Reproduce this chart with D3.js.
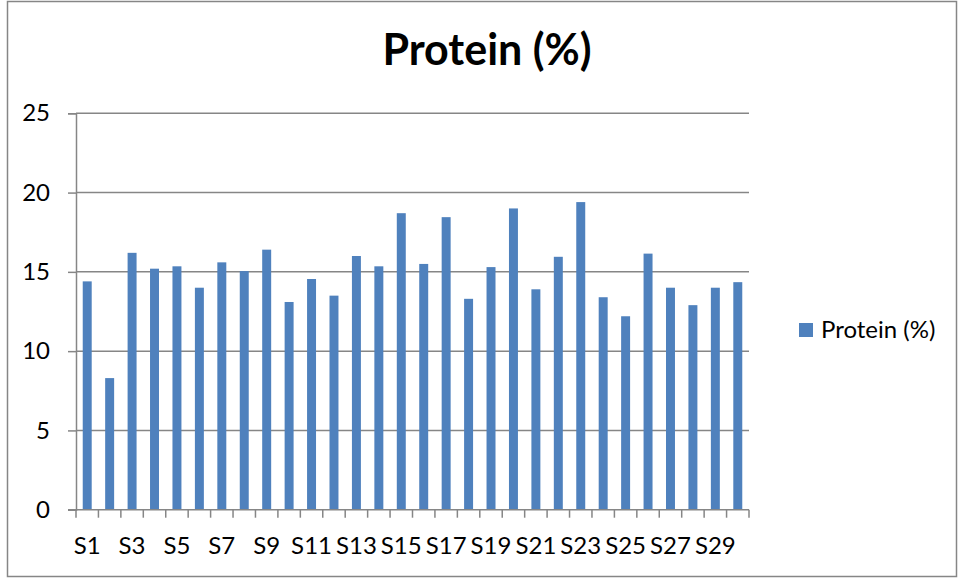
<!DOCTYPE html>
<html>
<head>
<meta charset="utf-8">
<script src="https://cdn.jsdelivr.net/npm/d3@7"></script>
<style>
  body { margin: 0; background: #fff; }
  svg text { font-family: Lato, "Open Sans", sans-serif; fill: #000; }
</style>
</head>
<body>
<svg width="959" height="578"></svg>
<script>
// values
const samples = d3.range(1, 31).map(d => "S" + d);
const protein = [14.4, 8.3, 16.2, 15.2, 15.35, 14.0, 15.6, 15.05, 16.4, 13.1,
                 14.55, 13.5, 16.0, 15.35, 18.7, 15.5, 18.45, 13.3, 15.3, 19.0,
                 13.9, 15.95, 19.4, 13.4, 12.2, 16.15, 14.0, 12.9, 14.0, 14.35];
const yTicks = [0, 5, 10, 15, 20, 25];
const seriesName = "Protein (%)";

(function () {
  const svg = d3.select("svg");
  const grey = "#868686";

  svg.append("rect")
    .attr("x", 7.5).attr("y", 1.5).attr("width", 949).attr("height", 575)
    .attr("fill", "#fff").attr("stroke", grey).attr("stroke-width", 1.5);

  const pLeft = 76, pRight = 749, pTop = 113.3, pBottom = 509.7;

  const x = d3.scaleBand().domain(samples).range([pLeft, pRight]).paddingInner(0.6).paddingOuter(0.3);
  const xb = d3.scaleBand().domain(samples).range([pLeft, pRight]); // tick positions
  const y = d3.scaleLinear().domain([0, 25]).range([pBottom, pTop]);

  // gridlines
  svg.append("g").selectAll("line").data(yTicks.filter(d => d > 0)).join("line")
    .attr("x1", pLeft).attr("x2", pRight)
    .attr("y1", d => y(d)).attr("y2", d => y(d))
    .attr("stroke", grey).attr("stroke-width", 1.5);

  // bars
  svg.append("g").selectAll("rect").data(protein).join("rect")
    .attr("x", (d, i) => x(samples[i]))
    .attr("width", x.bandwidth())
    .attr("y", d => y(d))
    .attr("height", d => pBottom - y(d))
    .attr("fill", "#4f81bd");

  // y axis
  const yAxis = svg.append("g").attr("transform", `translate(${pLeft},0)`)
    .call(d3.axisLeft(y).tickValues(yTicks).tickSize(8).tickPadding(18));
  yAxis.select(".domain").attr("stroke", grey).attr("stroke-width", 1.5);
  yAxis.selectAll(".tick line").attr("stroke", grey).attr("stroke-width", 1.5);
  yAxis.selectAll(".tick text").attr("font-size", 24).attr("fill", "#000")
    .style("font-family", "Lato, 'Open Sans', sans-serif");

  // x axis
  const xg = svg.append("g").attr("transform", `translate(0,${pBottom})`);
  xg.append("line").attr("x1", pLeft - 8).attr("x2", pRight).attr("stroke", grey).attr("stroke-width", 1.5);
  const bounds = samples.map(s => xb(s)).concat([pRight]);
  xg.selectAll("line.tk").data(bounds).join("line").attr("class", "tk")
    .attr("x1", d => d).attr("x2", d => d).attr("y1", 0).attr("y2", 8)
    .attr("stroke", grey).attr("stroke-width", 1.5);
  xg.selectAll("text").data(samples.filter((d, i) => i % 2 === 0)).join("text")
    .attr("x", d => xb(d) + xb.bandwidth() / 2)
    .attr("y", 44)
    .attr("text-anchor", "middle")
    .attr("font-size", 24)
    .text(d => d);

  // title
  svg.append("text").attr("x", 487).attr("y", 65).attr("text-anchor", "middle")
    .attr("font-size", 43).attr("font-weight", "bold").text(seriesName);

  // legend
  svg.append("rect").attr("x", 799).attr("y", 323).attr("width", 14).attr("height", 14).attr("fill", "#4f81bd");
  svg.append("text").attr("x", 821).attr("y", 338).attr("font-size", 24).text(seriesName);
}());
</script>
</body>
</html>
